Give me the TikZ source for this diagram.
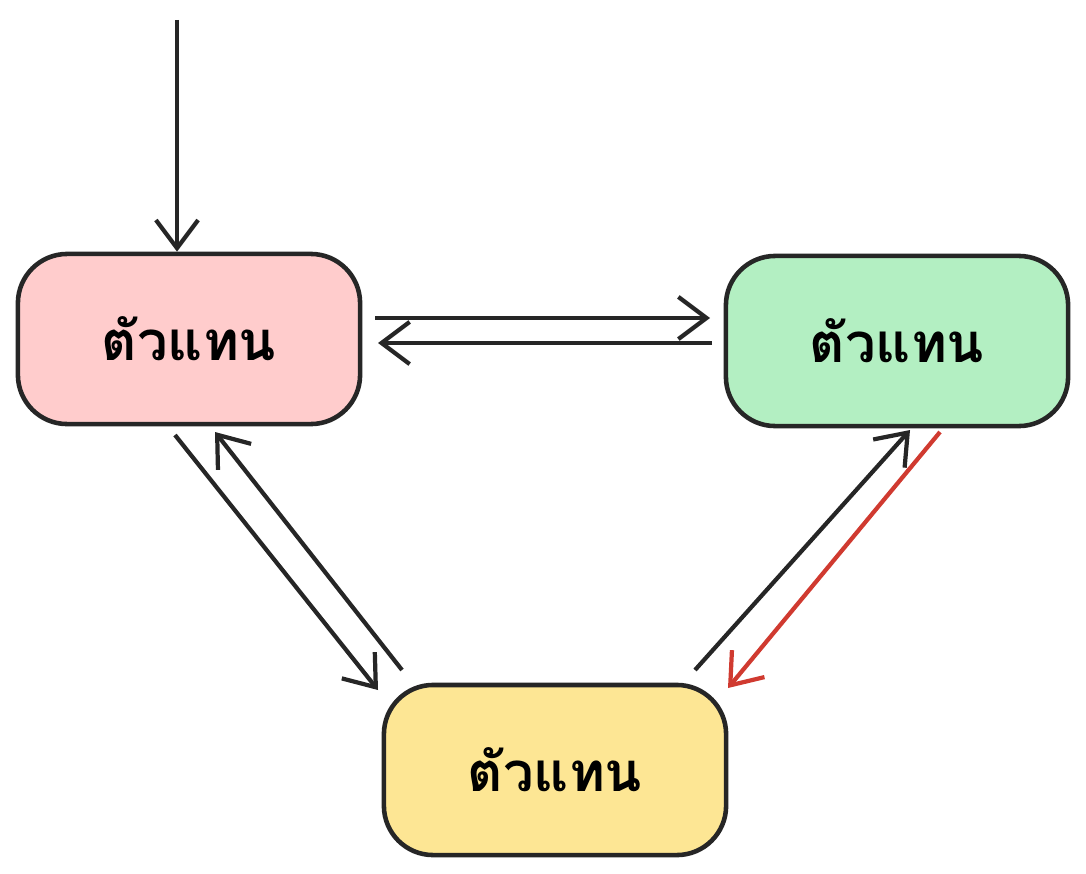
\documentclass[tikz,border=0pt]{standalone}
\usepackage{fontspec}
\newfontfamily\thaifont[Script=Thai]{Loma}
\usetikzlibrary{arrows.meta}
\usetikzlibrary{positioning}
\definecolor{agentred}{HTML}{FFCCCC}
\definecolor{agentgreen}{HTML}{B3EFC2}
\definecolor{agentyellow}{HTML}{FDE694}
\definecolor{backred}{HTML}{D03A30}
\begin{document}
\begin{tikzpicture}[x=0.01cm,y=-0.01cm,
      agent/.style={rectangle, rounded corners=14pt, draw=black!85, line width=1.3pt, minimum width=3.42cm, minimum height=1.7cm, font=\thaifont\bfseries\fontsize{15.5}{18}\selectfont},
      arrow/.style={-{Straight Barb[length=8pt,width=12pt]}, line width=1.2pt, black!85}
      ]
      \useasboundingbox (0,0) rectangle (1086,873);

      % Nodes
      \node[agent, fill=agentred] (R) at (189,339) {ตัวแทน};
      \node[agent, fill=agentgreen] (G) at (897,341) {ตัวแทน};
      \node[agent, fill=agentyellow] (Y) at (555,770) {ตัวแทน};

      % Arrow ends
      \coordinate (start) at (177,20);
      \coordinate (r1) at (375,318);   \coordinate (g1) at (710,318);
      \coordinate (g2) at (712,343);   \coordinate (r2) at (378,343);
      \coordinate (r3) at (175,435);   \coordinate (y3) at (378,690);
      \coordinate (y4) at (402,670);   \coordinate (r4) at (215,432);
      \coordinate (y5) at (695,670);   \coordinate (g5) at (910,430);
      \coordinate (g6) at (940,432);   \coordinate (y6) at (728,688);

      % Arrows
      \draw[arrow] (start) -- (R.north -| start);
      \draw[arrow] (r1) -- (g1);
      \draw[arrow] (g2) -- (r2);
      \draw[arrow] (r3) -- (y3);
      \draw[arrow] (y4) -- (r4);
      \draw[arrow] (y5) -- (g5);
      \draw[arrow,backred] (g6) -- (y6);

    \end{tikzpicture}
\end{document}
